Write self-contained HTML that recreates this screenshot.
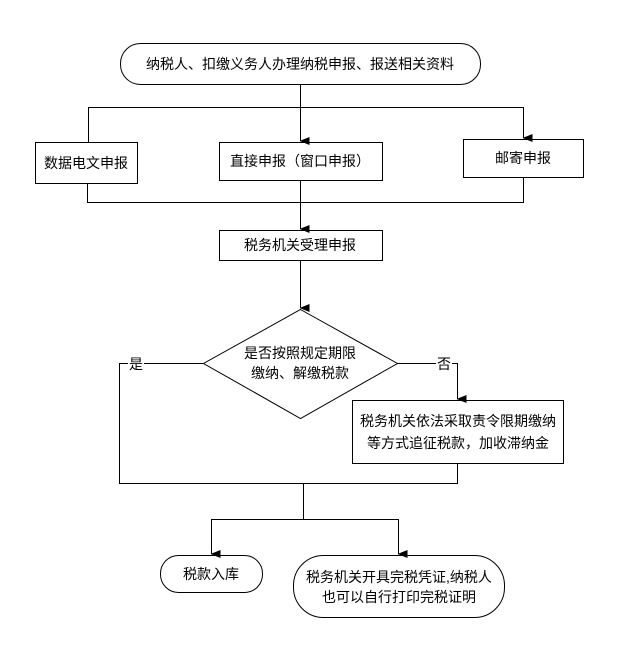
<!DOCTYPE html>
<html><head><meta charset="utf-8"><style>
body{margin:0;background:#fff}
svg text{font-family:"Liberation Sans","Noto Sans CJK SC",sans-serif;font-size:14px;fill:#000}
</style></head><body>
<svg width="620" height="661" viewBox="0 0 620 661" xmlns="http://www.w3.org/2000/svg">
<defs><marker id="a" markerWidth="8" markerHeight="10" refX="4" refY="9" orient="auto" markerUnits="userSpaceOnUse"><path d="M0,0 L8,0 L4,10 Z" fill="#000"/></marker></defs>
<g fill="none" stroke="#000" stroke-width="1">
<rect x="120.5" y="43.5" width="360" height="41" rx="20" fill="#fff"/>
<line x1="300.5" y1="84" x2="300.5" y2="141" marker-end="url(#a)"/>
<polyline points="88.5,143 88.5,107.5 523.5,107.5 523.5,138" marker-end="url(#a)"/>
<polyline points="88.5,141 88.5,107.5" />
<rect x="35.5" y="142.5" width="102" height="41"/>
<rect x="219.5" y="142.5" width="163" height="38"/>
<rect x="463.5" y="139.5" width="120" height="38"/>
<polyline points="87.5,183 87.5,202.5 523.5,202.5 523.5,177"/>
<line x1="300.5" y1="180" x2="300.5" y2="229" marker-end="url(#a)"/>
<rect x="219.5" y="230.5" width="163" height="30"/>
<line x1="300.5" y1="260" x2="300.5" y2="308" marker-end="url(#a)"/>
<polygon points="300.5,309.5 397.5,363.5 300.5,418.5 203.5,363.5"/>
<polyline points="203,363.5 119.5,363.5 119.5,483.5 457.5,483.5 457.5,463"/>
<polyline points="397,363.5 457.5,363.5 457.5,399" marker-end="url(#a)"/>
<rect x="352.5" y="400.5" width="211" height="63"/>
<polyline points="303.5,483 303.5,519.5 211.5,519.5 211.5,554" marker-end="url(#a)"/>
<polyline points="303.5,519.5 398.5,519.5 398.5,554" marker-end="url(#a)"/>
<rect x="160.5" y="555.5" width="102" height="37" rx="18"/>
<rect x="293.5" y="555.5" width="211" height="62" rx="30"/>
</g>
<rect x="128" y="356" width="16" height="16" fill="#fff"/>
<rect x="436" y="356" width="16" height="16" fill="#fff"/>
<g text-anchor="middle">
<text x="300" y="69">纳税人、扣缴义务人办理纳税申报、报送相关资料</text>
<text x="86" y="168">数据电文申报</text>
<text x="300" y="166">直接申报（窗口申报）</text>
<text x="523" y="163">邮寄申报</text>
<text x="300" y="250">税务机关受理申报</text>
<text x="300" y="358">是否按照规定期限</text>
<text x="300" y="378">缴纳、解缴税款</text>
<text x="136" y="369">是</text>
<text x="444" y="369">否</text>
<text x="458" y="426">税务机关依法采取责令限期缴纳</text>
<text x="458" y="448">等方式追征税款，加收滞纳金</text>
<text x="211" y="579">税款入库</text>
<text x="399" y="582">税务机关开具完税凭证,纳税人</text>
<text x="399" y="602">也可以自行打印完税证明</text>
</g>
</svg>
</body></html>
